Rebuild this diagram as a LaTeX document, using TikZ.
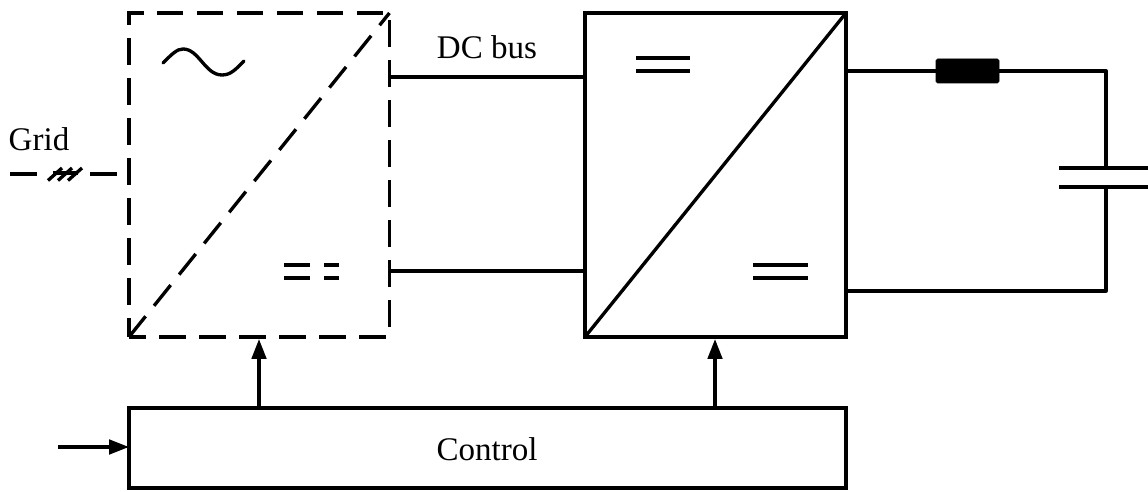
\documentclass[tikz,border=0pt]{standalone}
\usepackage{fontspec}
\setmainfont{Liberation Serif}
\usetikzlibrary{arrows.meta}

\tikzset{
  wire/.style={line width=1.9pt},
  dashwire/.style={line width=1.9pt, dash pattern=on 0.53cm off 0.27cm},
  block/.style={draw, line width=1.9pt, inner sep=0pt, outer sep=0pt, anchor=north west},
  sign/.style={line width=1.9pt},
  sigarrow/.style={wire, -{Triangle[length=0.4cm, width=0.29cm]}},
  label/.style={inner sep=0pt, font=\fontsize{18.8}{21}\selectfont}
}

\begin{document}
\begin{tikzpicture}[x=0.02cm, y=-0.02cm]

  \useasboundingbox (0,0) rectangle (1148,492);

  % ---------------------------------------------------------------- the blocks
  \node[block, draw=none, minimum width=5.21cm, minimum height=6.48cm] (rect) at (129,13) {};
  \node[block, minimum width=5.22cm, minimum height=6.48cm] (conv) at (585,13) {};
  \node[block, minimum width=14.34cm, minimum height=1.6cm] (ctrl) at (129,408) {};
  \node[label] (ctrltext) at (487,449) {Control};

  % dashed outline runs up the left side first, so the gaps fall as in the original
  \draw[dashwire, dash phase=0.16cm] (rect.south west) -- (rect.north west)
    -- (rect.north east) -- (rect.south east) -- cycle;

  % diagonals, corner to corner
  \draw[dashwire] (rect.south west) -- (rect.north east);
  \draw[wire] (conv.south west) -- (conv.north east);

  % --------------------------------------------------------------- DC bus
  \coordinate (rectout1) at (389.5,77);
  \coordinate (rectout2) at (389.5,271);
  \coordinate (convin1) at (585,77);
  \coordinate (convin2) at (585,271);
  \draw[wire] (rectout1) -- (convin1);
  \draw[wire] (rectout2) -- (convin2);
  \node[label] (dcbus) at (487,47) {DC bus};

  % --------------------------------------------------------------- output filter
  \node[draw, fill=black, rounded corners=1pt, line width=0.5pt, inner sep=0pt,
    minimum width=1.26cm, minimum height=0.48cm] (choke) at (967.5,71) {};
  \coordinate (convout1) at (846,71);
  \coordinate (convout2) at (846,291);
  \coordinate (captop) at (1106,168);
  \coordinate (capbot) at (1106,187);
  \draw[wire] (convout1) -- (choke.west);
  \draw[wire, line join=round] (choke.east) -| (captop);
  \draw[wire, line join=round] (convout2) -| (capbot);
  \draw[wire] (1059,168) -- (1148,168);
  \draw[wire] (1059,187) -- (1148,187);

  % --------------------------------------------------------------- grid side
  \node[label] (grid) at (39,139) {Grid};
  \coordinate (gridl) at (10,174);
  \coordinate (gridm1) at (37,174);
  \coordinate (gridm2) at (90,174);
  \coordinate (gridr) at (117,174);
  \draw[wire] (gridl) -- (gridm1);
  \draw[wire] (gridm2) -- (gridr);
  \draw[sign] (53,173) -- (78,173);
  \foreach \x in {48, 58, 68}
    \draw[sign] (\x,180.5) -- (\x+14,168);

  % ------------------------------------------------------- symbols in the blocks
  \draw[sign, line cap=round] (163,63)
    .. controls (172,54) and (177,49) .. (183,49)
    .. controls (199,49) and (205,75) .. (222,75)
    .. controls (231,75) and (236,69) .. (244,61);

  \draw[sign] (284,265) -- (310,265) (284,278) -- (310,278);
  \draw[sign] (324,265) -- (339,265) (324,278) -- (339,278);
  \foreach \y in {58, 71}
    \draw[sign] (636,\y) -- (690,\y);
  \foreach \y in {265, 278}
    \draw[sign] (753,\y) -- (808,\y);

  % --------------------------------------------------------------- control signals
  \coordinate (ctrlin) at (58,447);
  \coordinate (ctrlend) at (129,447);
  \coordinate (ctrlup1) at (259,408);
  \coordinate (rectin) at (259,339);
  \coordinate (ctrlup2) at (715,408);
  \coordinate (convin) at (715,339);
  \draw[sigarrow] (ctrlin) -- (ctrlend);
  \draw[sigarrow] (ctrlup1) -- (rectin);
  \draw[sigarrow] (ctrlup2) -- (convin);

\end{tikzpicture}
\end{document}
